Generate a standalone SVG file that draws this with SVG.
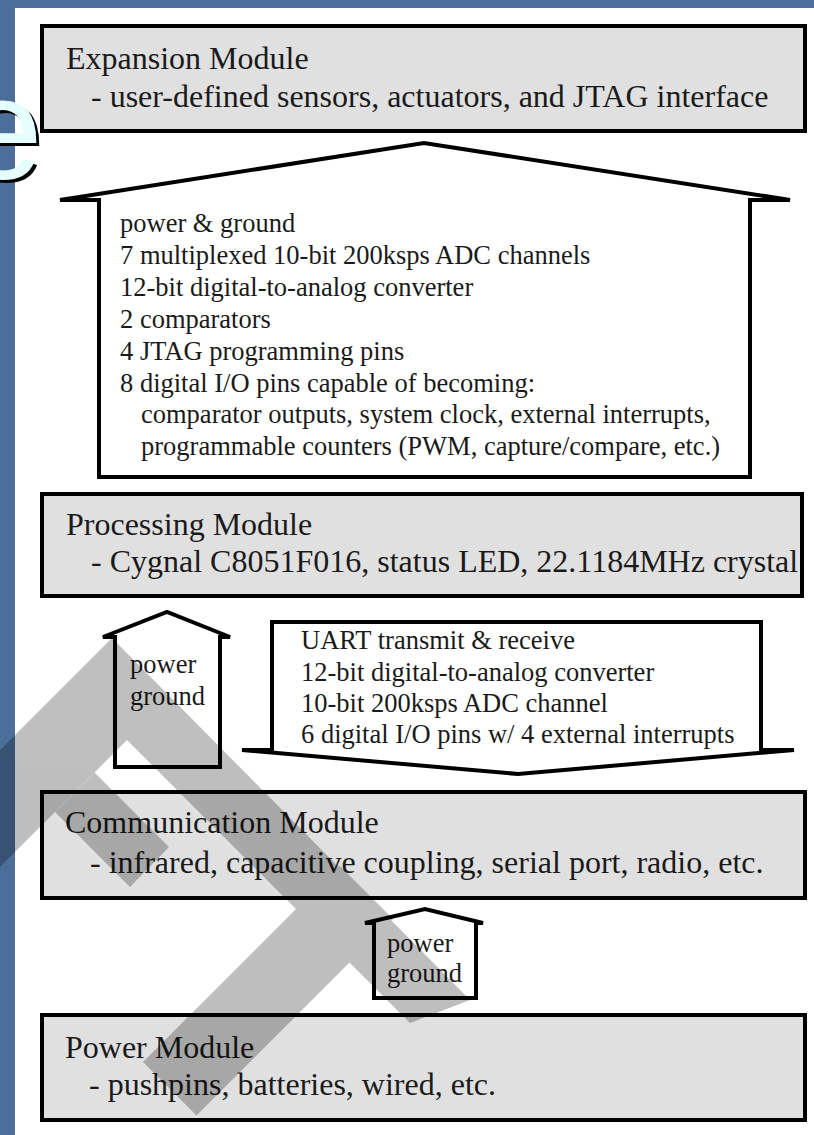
<svg xmlns="http://www.w3.org/2000/svg" width="814" height="1135" viewBox="0 0 814 1135">
<defs>
<style>
.box{fill:#e0e0e0;stroke:#000;stroke-width:4}
.arrow{fill:#fff;stroke:#000;stroke-width:4;stroke-linejoin:miter}
text.t{font-family:'Liberation Serif','DejaVu Serif',serif;fill:#1a1a1a}
text.big{font-size:32px}
text.sm{font-size:26.5px}
</style>
</defs>
<rect x="0" y="0" width="814" height="1135" fill="#4b6f99"/>
<rect x="15" y="8" width="799" height="1127" fill="#fff"/>
<g id="title-e">
<text x="-35" y="182" font-family="'Liberation Sans', Arial, sans-serif" font-size="145" fill="#000">e</text>
<text x="-38" y="179" font-family="'Liberation Sans', Arial, sans-serif" font-size="145" fill="#e6ffff">e</text>
</g>
<g id="expansion">
<rect class="box" x="42" y="26" width="763" height="105"/>
<text class="t big" x="66" y="69">Expansion Module</text>
<text class="t big" x="91" y="107">- user-defined sensors, actuators, and JTAG interface</text>
</g>
<g id="processing">
<rect class="box" x="42" y="494" width="760" height="102"/>
<text class="t big" x="66" y="535">Processing Module</text>
<text class="t big" x="91" y="572">- Cygnal C8051F016, status LED, 22.1184MHz crystal</text>
</g>
<g id="communication">
<rect class="box" x="42" y="792" width="763" height="106"/>
<text class="t big" x="65" y="833">Communication Module</text>
<text class="t big" x="90" y="873">- infrared, capacitive coupling, serial port, radio, etc.</text>
</g>
<g id="power">
<rect class="box" x="42" y="1015" width="763" height="105"/>
<text class="t big" x="65" y="1058">Power Module</text>
<text class="t big" x="89" y="1095">- pushpins, batteries, wired, etc.</text>
</g>
<g id="connectors">
<g id="exp-bus">
<path class="arrow" d="M99,477 V200 H60 L424,143 L790,200 H750 V477 Z"/>
<text class="t sm" x="120" y="232">power &amp; ground</text>
<text class="t sm" x="120" y="264">7 multiplexed 10-bit 200ksps ADC channels</text>
<text class="t sm" x="120" y="296">12-bit digital-to-analog converter</text>
<text class="t sm" x="120" y="328">2 comparators</text>
<text class="t sm" x="120" y="360">4 JTAG programming pins</text>
<text class="t sm" x="120" y="392">8 digital I/O pins capable of becoming:</text>
<text class="t sm" x="141" y="423">comparator outputs, system clock, external interrupts,</text>
<text class="t sm" x="141" y="455">programmable counters (PWM, capture/compare, etc.)</text>
</g>
<g id="proc-power">
<path class="arrow" d="M115,767 V637 H103 L167,612 L230,637 H220 V767 Z"/>
<text class="t sm" x="130" y="673">power</text>
<text class="t sm" x="130" y="705">ground</text>
</g>
<g id="comm-bus">
<path class="arrow" d="M272,622 H761 V750 H794 L518,774 L242,750 H272 Z"/>
<text class="t sm" x="301" y="649">UART transmit &amp; receive</text>
<text class="t sm" x="301" y="681">12-bit digital-to-analog converter</text>
<text class="t sm" x="301" y="712">10-bit 200ksps ADC channel</text>
<text class="t sm" x="301" y="743">6 digital I/O pins w/ 4 external interrupts</text>
</g>
<g id="comm-power">
<path class="arrow" d="M374,998 V923 H365 L425,909 L483,923 H476 V998 Z"/>
<text class="t sm" x="387" y="952">power</text>
<text class="t sm" x="387" y="982">ground</text>
</g>
</g>
<g id="watermark" fill="#000" opacity="0.25">
<path d="M112,638 L470,1000 L410,1023 L127,740 L0,867 L0,750 Z"/>
<path d="M94.5,772.5 L169,847 L130,887 L55,812 Z"/>
<path d="M339.5,865.5 L393,919 L196.5,1115.5 L143,1062 Z"/>
</g>
</svg>
